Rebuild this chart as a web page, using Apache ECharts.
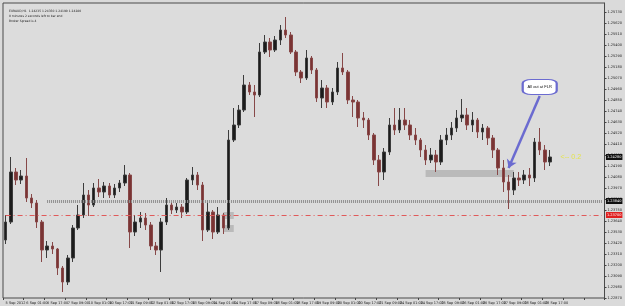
<!DOCTYPE html>
<html>
<head>
<meta charset="utf-8">
<title>EURAUD H1</title>
<script src="https://cdn.jsdelivr.net/npm/echarts@6/dist/echarts.min.js"></script>
<style>
  html, body { margin: 0; padding: 0; background: #dadada; }
  #chart { width: 625px; height: 306px; }
</style>
</head>
<body>
<div id="chart"></div>
<script>
// 4h candles (prices)
const opens = [1.2345,1.2363,1.2413,1.2405,1.2409,1.2387,1.2382,1.2363,1.2335,1.2339,
  1.2336,1.2317,1.2303,1.2327,1.2357,1.2370,1.2390,1.2380,1.2397,1.2393,
  1.2399,1.2390,1.2397,1.2402,1.2410,1.2353,1.2363,1.2367,1.2360,1.2339,
  1.2335,1.2363,1.2380,1.2375,1.2378,1.2373,1.2405,1.2410,1.2400,1.2355,
  1.2373,1.2353,1.2370,1.2357,1.2445,1.2460,1.2475,1.2500,1.2493,1.2490,
  1.2533,1.2543,1.2535,1.2545,1.2555,1.2550,1.2533,1.2513,1.2507,1.2527,
  1.2515,1.2487,1.2497,1.2483,1.2493,1.2517,1.2513,1.2485,1.2483,1.2467,
  1.2465,1.2450,1.2425,1.2413,1.2433,1.2460,1.2455,1.2465,1.2460,1.2450,
  1.2445,1.2435,1.2425,1.2430,1.2423,1.2445,1.2450,1.2457,1.2467,1.2470,
  1.2460,1.2465,1.2453,1.2457,1.2447,1.2435,1.2417,1.2403,1.2395,1.2407,
  1.2405,1.2410,1.2407,1.2443,1.2435,1.2423];
const closes = [1.2363,1.2413,1.2405,1.2409,1.2387,1.2382,1.2363,1.2335,1.2339,1.2336,
  1.2317,1.2303,1.2327,1.2357,1.2370,1.2390,1.2380,1.2397,1.2393,1.2399,
  1.2390,1.2397,1.2402,1.2410,1.2353,1.2363,1.2367,1.2360,1.2339,1.2335,
  1.2363,1.2380,1.2375,1.2378,1.2373,1.2405,1.2410,1.2400,1.2355,1.2373,
  1.2353,1.2370,1.2357,1.2445,1.2460,1.2475,1.2500,1.2493,1.2490,1.2533,
  1.2543,1.2535,1.2545,1.2555,1.2550,1.2533,1.2513,1.2507,1.2527,1.2515,
  1.2487,1.2497,1.2483,1.2493,1.2517,1.2513,1.2485,1.2483,1.2467,1.2465,
  1.2450,1.2425,1.2413,1.2433,1.2460,1.2455,1.2465,1.2460,1.2450,1.2445,
  1.2435,1.2425,1.2430,1.2423,1.2445,1.2450,1.2457,1.2467,1.2470,1.2460,
  1.2465,1.2453,1.2457,1.2447,1.2435,1.2417,1.2403,1.2395,1.2407,1.2405,
  1.2410,1.2407,1.2443,1.2435,1.2423,1.2428];
const lows = [1.2341,1.2361,1.2400,1.2401,1.2383,1.2377,1.2357,1.2323,1.2327,1.2331,
  1.2310,1.2293,1.2300,1.2323,1.2355,1.2367,1.2369,1.2378,1.2388,1.2387,
  1.2387,1.2387,1.2393,1.2399,1.2337,1.2349,1.2357,1.2355,1.2335,1.2330,
  1.2313,1.2360,1.2371,1.2372,1.2367,1.2371,1.2400,1.2395,1.2344,1.2353,
  1.2346,1.2351,1.2351,1.2355,1.2443,1.2457,1.2473,1.2490,1.2468,1.2488,
  1.2531,1.2528,1.2533,1.2540,1.2547,1.2531,1.2509,1.2502,1.2505,1.2511,
  1.2483,1.2477,1.2477,1.2480,1.2490,1.2510,1.2481,1.2468,1.2458,1.2457,
  1.2445,1.2420,1.2399,1.2405,1.2430,1.2450,1.2452,1.2455,1.2445,1.2440,
  1.2428,1.2420,1.2422,1.2413,1.2420,1.2440,1.2445,1.2453,1.2463,1.2455,
  1.2453,1.2447,1.2445,1.2440,1.2427,1.2410,1.2393,1.2376,1.2390,1.2399,
  1.2401,1.2399,1.2403,1.2430,1.2415,1.2419];
const highs = [1.2370,1.2428,1.2417,1.2415,1.2427,1.2391,1.2385,1.2365,1.2344,1.2343,
  1.2337,1.2319,1.2330,1.2360,1.2380,1.2402,1.2395,1.2402,1.2406,1.2403,
  1.2402,1.2401,1.2405,1.2420,1.2412,1.2370,1.2373,1.2372,1.2363,1.2343,
  1.2367,1.2387,1.2383,1.2382,1.2381,1.2407,1.2418,1.2413,1.2403,1.2385,
  1.2375,1.2378,1.2372,1.2455,1.2477,1.2480,1.2510,1.2503,1.2500,1.2542,
  1.2550,1.2547,1.2549,1.2560,1.2568,1.2553,1.2535,1.2515,1.2535,1.2529,
  1.2517,1.2505,1.2500,1.2497,1.2523,1.2532,1.2515,1.2489,1.2485,1.2473,
  1.2467,1.2452,1.2430,1.2437,1.2467,1.2477,1.2477,1.2477,1.2465,1.2457,
  1.2447,1.2440,1.2437,1.2435,1.2450,1.2457,1.2463,1.2475,1.2486,1.2477,
  1.2473,1.2467,1.2461,1.2459,1.2450,1.2437,1.2425,1.2410,1.2413,1.2413,
  1.2415,1.2417,1.2447,1.2457,1.2440,1.2435];

// one label every 4 candles (16 hours)
const tickLabels = ['5 Sep 2012', '6 Sep 01:00', '6 Sep 17:00', '7 Sep 09:00', '10 Sep 01:00',
  '10 Sep 17:00', '11 Sep 09:00', '12 Sep 01:00', '12 Sep 17:00', '13 Sep 09:00',
  '14 Sep 01:00', '14 Sep 17:00', '17 Sep 09:00', '18 Sep 01:00', '18 Sep 17:00',
  '19 Sep 09:00', '20 Sep 01:00', '20 Sep 17:00', '21 Sep 09:00', '24 Sep 01:00',
  '24 Sep 17:00', '25 Sep 09:00', '26 Sep 01:00', '26 Sep 17:00', '27 Sep 09:00',
  '28 Sep 01:00', '28 Sep 17:00'];

const levelLine = 1.2384;   // grey dotted
const stopLine = 1.2370;    // red dash-dot
const lastPrice = 1.2428;

const slotCount = 116; // chart shifted: empty space on the right
const lastSlot = slotCount - 1;
const cats = [];
for (let i = 0; i < slotCount; i++) cats.push(String(i));

const candles = opens.map((o, i) => [o, closes[i], lows[i], highs[i]]);

const chart = echarts.init(document.getElementById('chart'));
const tiny = { fontSize: 3.5, color: '#222', fontFamily: 'DejaVu Sans' };

function priceTag(value, bg) {
  return {
    show: true, position: 'end', distance: 4, formatter: value.toFixed(5),
    fontSize: 3.5, color: '#fff', backgroundColor: bg, padding: [1, 1], fontFamily: 'DejaVu Sans',
  };
}

const option = {
  animation: false,
  backgroundColor: '#dadada',
  title: {
    text: 'EURAUD,H1  1.24235 1.24350 1.24190 1.24280\n0 minutes 2 seconds left to bar end\nBroker Spread is 4',
    left: 4,
    top: 4,
    textStyle: { fontSize: 3, lineHeight: 5, fontWeight: 'normal', color: '#222', fontFamily: 'DejaVu Sans' },
  },
  grid: {
    left: 3, right: 18, top: 3, bottom: 8,
    show: true,
    backgroundColor: '#dcdcdc',
    borderColor: '#4a4a4a',
    borderWidth: 1,
  },
  xAxis: {
    type: 'category',
    data: cats,
    boundaryGap: true,
    axisLine: { show: false },
    axisTick: { show: true, interval: 3, length: 2, lineStyle: { color: '#444' } },
    axisLabel: {
      ...tiny,
      interval: 3,
      align: 'left',
      margin: 3,
      showMinLabel: true,
      formatter: (v, idx) => tickLabels[idx / 4] || '',
    },
    splitLine: { show: false },
  },
  yAxis: {
    type: 'value',
    position: 'right',
    min: 1.2287,
    max: 1.2582,
    interval: 0.0011,
    axisLine: { show: true, lineStyle: { color: '#4a4a4a' } },
    axisTick: { show: true, length: 2, lineStyle: { color: '#444' } },
    axisLabel: {
      ...tiny,
      margin: 3,
      showMaxLabel: false,
      formatter: (v) => v.toFixed(5),
    },
    splitLine: { show: false },
  },
  series: [{
    type: 'candlestick',
    data: candles,
    barWidth: 3,
    itemStyle: {
      color: '#1c1c1c',
      color0: '#7a3434',
      borderColor: '#3c3c3c',
      borderColor0: '#874848',
      borderWidth: 1,
    },
    markArea: {
      silent: true,
      itemStyle: { color: 'rgba(180,180,180,0.85)' },
      data: [
        [{ coord: [42, 1.2373] }, { coord: [44, 1.2366] }],
        [{ coord: [42, 1.2360] }, { coord: [44, 1.2353] }],
        [{ coord: [81, 1.2415] }, { coord: [98, 1.2408] }],
      ],
    },
    markLine: {
      silent: true,
      symbol: 'none',
      data: [
        [
          {
            coord: [8, levelLine],
            lineStyle: { color: '#8e8e8e', width: 3, type: [1, 1] },
            label: priceTag(levelLine, '#111'),
          },
          { coord: [lastSlot, levelLine] },
        ],
        [
          {
            coord: [0, stopLine],
            lineStyle: { color: '#e05a5a', width: 1, type: [5, 3, 1, 3] },
            label: priceTag(stopLine, '#e02020'),
          },
          { coord: [lastSlot, stopLine] },
        ],
        [
          {
            coord: [lastSlot - 1, lastPrice],
            lineStyle: { color: 'rgba(0,0,0,0)', width: 1 },
            label: priceTag(lastPrice, '#111'),
          },
          { coord: [lastSlot, lastPrice] },
        ],
        [
          {
            coord: [103, 1.2489],
            lineStyle: { color: '#6b6bd0', width: 2.5, type: 'solid' },
            label: { show: false },
          },
          { coord: [97, 1.2417], symbol: 'arrow', symbolSize: 8 },
        ],
      ],
    },
    markPoint: {
      silent: true,
      data: [
        {
          coord: [103, 1.2498],
          symbol: 'roundRect',
          symbolSize: [34, 15],
          itemStyle: { color: '#ffffff', borderColor: '#6b6bd0', borderWidth: 1.5 },
          label: { show: true, position: 'inside', formatter: 'All out at FLR', fontSize: 4, color: '#111' },
        },
        {
          coord: [109, lastPrice],
          symbol: 'circle',
          symbolSize: 1,
          itemStyle: { color: 'rgba(0,0,0,0)' },
          label: { show: true, position: 'inside', formatter: '<-- 0.2', fontSize: 7, color: '#e4e44a' },
        },
      ],
    },
  }],
};

chart.setOption(option);
</script>
</body>
</html>
